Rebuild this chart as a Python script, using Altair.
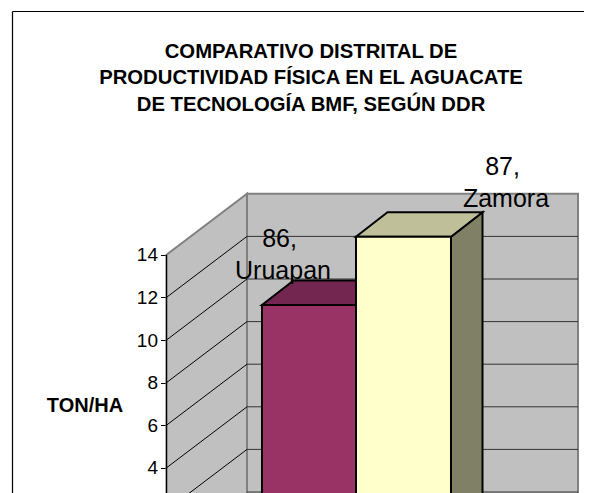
import altair as alt
import pandas as pd

# ---- chart data ----
categories = ["Uruapan", "Zamora"]
series_names = ["86", "87"]
values = [10.8, 14.0]
grid_values = [2, 4, 6, 8, 10, 12]
tick_values = [4, 6, 8, 10, 12, 14]
title_lines = [
    "COMPARATIVO DISTRITAL DE",
    "PRODUCTIVIDAD FÍSICA EN EL AGUACATE",
    "DE TECNOLOGÍA BMF, SEGÚN DDR",
]
y_title = "TON/HA"

# ---- layout ----
W, H = 576, 520
UNIT = 21.3
ZERO_PX = 545.0


def yv(px):
    return (ZERO_PX - px) / UNIT


LO, HI = yv(H), yv(0)
XS = alt.Scale(domain=[0, W], range=[0, W], nice=False, zero=False)
YS = alt.Scale(domain=[LO, HI], range=[H, 0], nice=False, zero=False)

FRAME_L, FRAME_R, FRAME_T = 4.5, W, 3.5
WALL_L, WALL_DX, WALL_DY, WALL_R = 158.5, 80.5, 61 / UNIT, 570
AX_MAX = 14
BAR_LEFT = [254, 348]
BAR_W, BAR_DX, BAR_DY, BAR_F = 95, 31.5, 24.5 / UNIT, 18 / UNIT
BAR_FRONT = ["#993366", "#FFFFCC"]
BAR_TOP = ["#732650", "#BFBF99"]
BAR_SIDE = ["#4D1A33", "#808066"]
LABEL_X = [275, 498]
LABEL_NUM_DX = -3.5
LABEL_BASE = [[239, 271], [167, 199]]
TITLE_X = 303
TITLE_BASE = [49.7, 76.3, 103]
WALL = "#C0C0C0"
GREY = "#808080"

axis = alt.Axis(
    values=tick_values, offset=-WALL_L, domain=False, grid=False, tickSize=6, tickColor="#000000",
    tickWidth=1, labelFont="Liberation Sans", labelFontSize=19, labelColor="#000000", labelPadding=3,
    title=y_title, titleAngle=0, titleFont="Liberation Sans", titleFontSize=20, titleFontWeight="bold",
    titleColor="#000000", titleX=-82, titleY=403.5, titleAlign="center", titleBaseline="alphabetic",
)
X = alt.X("x:Q", scale=XS, axis=None)
Y = alt.Y("y:Q", scale=YS, axis=axis)


def rule(rows, color, width):
    df = pd.DataFrame(rows, columns=["x", "x2", "y", "y2"])
    return alt.Chart(df).mark_rule(color=color, strokeWidth=width, clip=True).encode(
        x=X, x2=alt.X2("x2"), y=Y, y2=alt.Y2("y2")
    )


def vface(rows, fill, stroke, width):
    df = pd.DataFrame(rows, columns=["x", "y", "y2"])
    return alt.Chart(df).mark_area(fill=fill, stroke=stroke, strokeWidth=width, clip=True,
                                   strokeJoin="miter").encode(x=X, y=Y, y2=alt.Y2("y2"))


def hface(rows, fill, stroke, width):
    df = pd.DataFrame(rows, columns=["y", "x", "x2"])
    return alt.Chart(df).mark_area(orient="horizontal", fill=fill, stroke=stroke, strokeWidth=width,
                                   clip=True, strokeJoin="miter").encode(y=Y, x=X, x2=alt.X2("x2"))


def text(rows, size, weight="normal"):
    return alt.Chart(pd.DataFrame(rows)).mark_text(
        font="Liberation Sans", fontSize=size, fontWeight=weight, color="#000000",
        align="center", baseline="alphabetic"
    ).encode(x=X, y=Y, text="t:N")


layers = []

# chart frame
layers.append(rule([[FRAME_L, FRAME_R, yv(FRAME_T), yv(FRAME_T)],
                    [FRAME_L, FRAME_L, yv(FRAME_T), LO]], "#000000", 1.2))

# walls
layers.append(vface([[WALL_L + WALL_DX, AX_MAX + WALL_DY, LO], [WALL_R, AX_MAX + WALL_DY, LO]], WALL, GREY, 2))
layers.append(vface([[WALL_L, AX_MAX, LO], [WALL_L + WALL_DX, AX_MAX + WALL_DY, LO]], WALL, GREY, 2))

# gridlines
layers.append(rule([[WALL_L, WALL_L + WALL_DX, v, v + WALL_DY] for v in grid_values], "#000000", 1))
layers.append(rule([[WALL_L + WALL_DX, WALL_R, v + WALL_DY, v + WALL_DY] for v in grid_values + [0]], "#333333", 1))
layers.append(rule([[WALL_L, WALL_L, AX_MAX, LO]], "#000000", 1.2))

# bars
for i, v in enumerate(values):
    x0 = BAR_LEFT[i]
    top = v + BAR_F
    layers.append(vface([[x0 + BAR_W, top, BAR_F], [x0 + BAR_W + BAR_DX, top + BAR_DY, BAR_F + BAR_DY]],
                        BAR_SIDE[i], "#000000", 2))
    layers.append(hface([[top, x0, x0 + BAR_W], [top + BAR_DY, x0 + BAR_DX, x0 + BAR_W + BAR_DX]],
                        BAR_TOP[i], "#000000", 2))
    layers.append(vface([[x0, top, BAR_F], [x0 + BAR_W, top, BAR_F]], BAR_FRONT[i], "#000000", 2))

# data labels
rows = []
for i, cat in enumerate(categories):
    rows.append({"x": LABEL_X[i] + LABEL_NUM_DX, "y": yv(LABEL_BASE[i][0]), "t": series_names[i] + ","})
    rows.append({"x": LABEL_X[i], "y": yv(LABEL_BASE[i][1]), "t": cat})
layers.append(text(rows, 25))

# title
layers.append(text([{"x": TITLE_X, "y": yv(b), "t": t} for b, t in zip(TITLE_BASE, title_lines)], 20.3, "bold"))

chart = alt.layer(*layers).properties(
    width=W, height=H, padding=0, autosize=alt.AutoSizeParams(type="none"),
).configure_view(strokeWidth=0)

chart.save("out.html", embed_options={"renderer": "svg", "actions": False})
